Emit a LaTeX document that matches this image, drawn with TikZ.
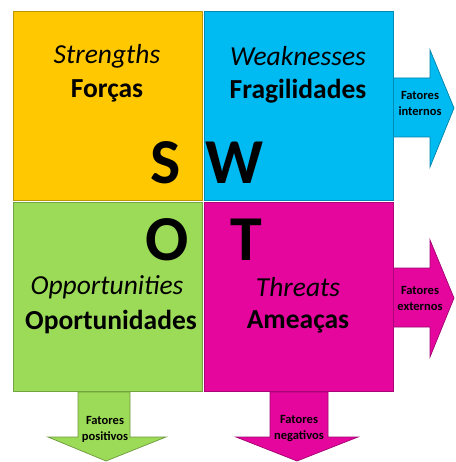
\documentclass[tikz,border=0pt]{standalone}
\usepackage{fontspec}
\setmainfont{Carlito}
\definecolor{cyel}{HTML}{FFC800}
\definecolor{cblue}{HTML}{00BAF2}
\definecolor{cgreen}{HTML}{9CDB58}
\definecolor{cmag}{HTML}{E5069E}
\tikzset{
  quad/.style={draw=#1!75!black, line width=0.8pt, fill=#1, minimum width=189pt, minimum height=189pt, inner sep=0pt},
  arr/.style={draw=#1!70!black, line width=0.7pt, fill=#1},
  eng/.style={font=\fontsize{27.5}{29}\selectfont\itshape, inner sep=0pt},
  por/.style={font=\fontsize{27.5}{29}\selectfont\bfseries, inner sep=0pt},
  big/.style={font=\fontsize{64}{64}\selectfont\bfseries, inner sep=0pt},
  lab/.style={font=\fontsize{12.5}{16}\selectfont\bfseries, align=center, inner sep=0pt},
}
\begin{document}
\begin{tikzpicture}[x=1pt,y=-1pt]
\useasboundingbox[fill=white] (0,0) rectangle (455,462);
% arrows
\draw[arr=cblue] (393,78) -- (430,78) -- (430,50) -- (454,108) -- (430,167) -- (430,137) -- (393,137) -- cycle;
\draw[arr=cmag] (393,268) -- (430,268) -- (430,240) -- (454,298) -- (430,357) -- (430,327) -- (393,327) -- cycle;
\draw[arr=cgreen] (78,392) -- (78,437) -- (48,437) -- (106,461) -- (166,437) -- (130,437) -- (130,392) -- cycle;
\draw[arr=cmag] (270,392) -- (270,437) -- (236,437) -- (297,461) -- (358,437) -- (328,437) -- (328,392) -- cycle;
% quadrants
\node[quad=cyel] (s) at (107.5,106) {};
\node[quad=cblue] (w) at (298.5,106) {};
\node[quad=cgreen] (o) at (107.5,297) {};
\node[quad=cmag] (t) at (298.5,297) {};
% texts
\node[eng] (se) at (107,56) {Strengths};
\node[por] (sp) at (107,91) {Forças};
\node[eng] (we) at (298,56) {Weaknesses};
\node[por] (wp) at (298,91) {Fragilidades};
\node[eng] (oe) at (107,287) {Opportunities};
\node[por] (op) at (111,322) {Oportunidades};
\node[eng] (te) at (298,287) {Threats};
\node[por] (tp) at (298,322) {Ameaças};
\node[big] (ls) at (166,163) {S};
\node[big] (lw) at (234,163) {W};
\node[big] (lo) at (167,240) {O};
\node[big] (lt) at (246,240) {T};
\node[lab] (fi) at (420,103) {Fatores\\internos};
\node[lab] (fe) at (420,298) {Fatores\\externos};
\node[lab] (fp) at (105,429) {Fatores\\positivos};
\node[lab] (fn) at (299,429) {Fatores\\negativos};
\end{tikzpicture}
\end{document}
